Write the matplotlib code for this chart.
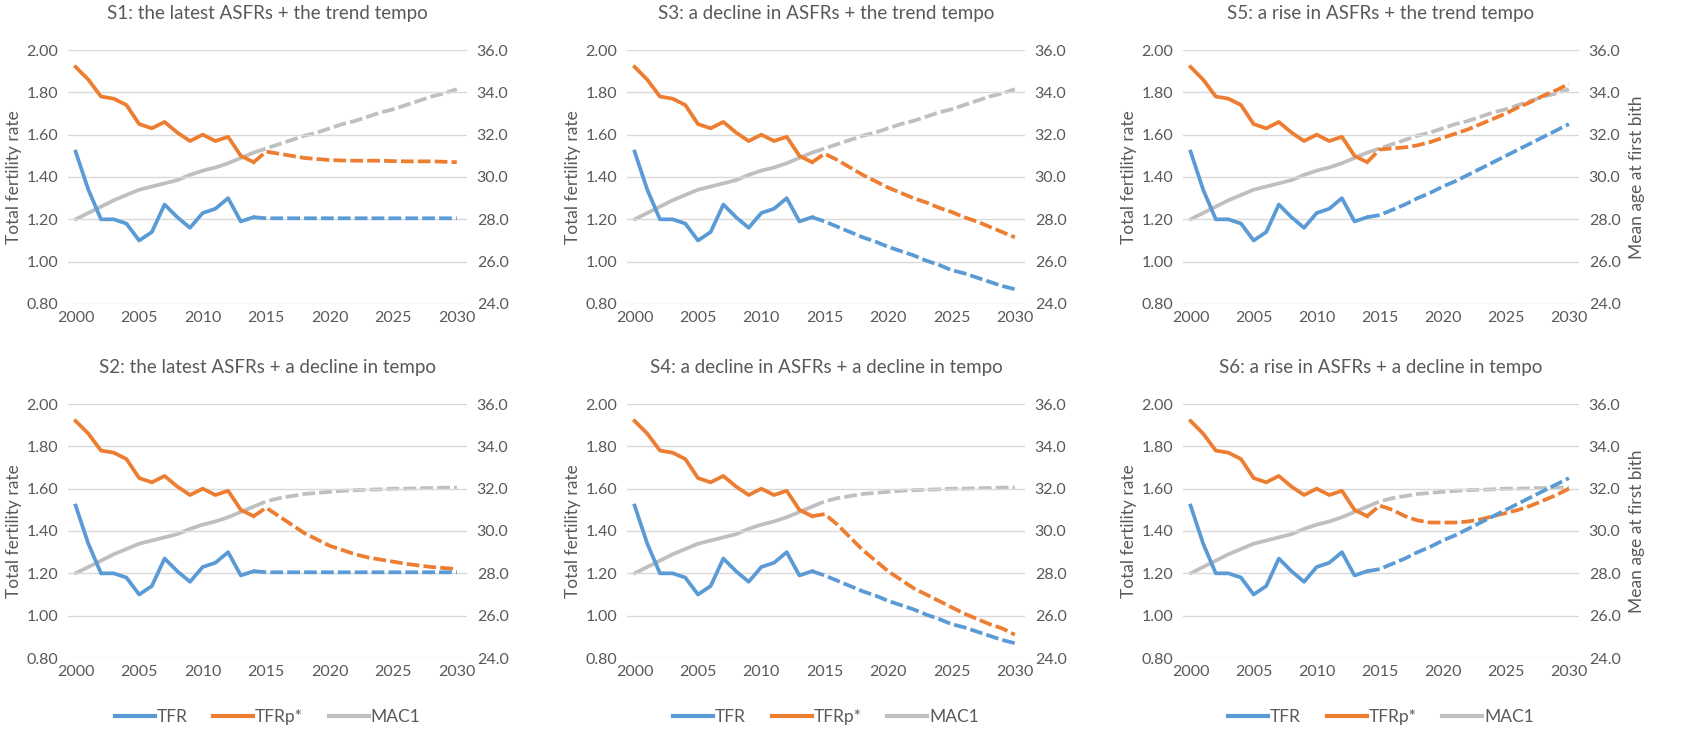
import matplotlib
matplotlib.use("Agg")
import matplotlib.pyplot as plt
from matplotlib.lines import Line2D

plt.rcParams['font.family'] = ['Lato', 'DejaVu Sans']

hist_years = list(range(2000, 2015))
proj_years = list(range(2014, 2031))

tfr_hist = [1.52, 1.34, 1.20, 1.20, 1.18, 1.10, 1.14, 1.27, 1.21, 1.16, 1.23, 1.25, 1.30, 1.19, 1.21]
tfrp_hist = [1.92, 1.86, 1.78, 1.77, 1.74, 1.65, 1.63, 1.66, 1.61, 1.57, 1.60, 1.57, 1.59, 1.50, 1.47]
mac1_hist = [28.0, 28.3, 28.6, 28.9, 29.15, 29.4, 29.55, 29.7, 29.85, 30.1, 30.3, 30.45, 30.65, 30.9, 31.15]

# projections (2014..2030)
tfr_flat = [1.21, 1.205, 1.205, 1.205, 1.205, 1.205, 1.205, 1.205, 1.205, 1.205, 1.205, 1.205, 1.205, 1.205, 1.205, 1.205, 1.205]
tfr_decline = [1.21, 1.19, 1.165, 1.14, 1.115, 1.095, 1.07, 1.05, 1.03, 1.005, 0.985, 0.96, 0.945, 0.925, 0.905, 0.885, 0.87]
tfr_rise = [1.21, 1.22, 1.245, 1.27, 1.30, 1.325, 1.355, 1.38, 1.41, 1.44, 1.47, 1.50, 1.53, 1.56, 1.59, 1.62, 1.65]

tfrp_s1 = [1.47, 1.52, 1.51, 1.50, 1.49, 1.485, 1.48, 1.478, 1.477, 1.477, 1.477, 1.475, 1.474, 1.474, 1.474, 1.472, 1.47]
tfrp_s2 = [1.47, 1.51, 1.47, 1.43, 1.39, 1.36, 1.33, 1.31, 1.29, 1.275, 1.265, 1.255, 1.245, 1.237, 1.23, 1.225, 1.22]
tfrp_s3 = [1.47, 1.51, 1.48, 1.445, 1.41, 1.38, 1.35, 1.325, 1.30, 1.28, 1.255, 1.235, 1.21, 1.19, 1.165, 1.14, 1.115]
tfrp_s4 = [1.47, 1.48, 1.43, 1.37, 1.31, 1.26, 1.21, 1.17, 1.13, 1.10, 1.07, 1.04, 1.01, 0.985, 0.96, 0.94, 0.91]
tfrp_s5 = [1.47, 1.53, 1.535, 1.54, 1.55, 1.565, 1.585, 1.605, 1.625, 1.65, 1.675, 1.70, 1.73, 1.755, 1.785, 1.81, 1.84]
tfrp_s6 = [1.47, 1.52, 1.50, 1.47, 1.45, 1.44, 1.44, 1.44, 1.445, 1.455, 1.47, 1.485, 1.50, 1.52, 1.545, 1.57, 1.60]

mac1_trend = [31.15, 31.35, 31.55, 31.75, 31.95, 32.1, 32.3, 32.5, 32.65, 32.85, 33.05, 33.2, 33.4, 33.6, 33.8, 33.95, 34.15]
mac1_decline = [31.15, 31.4, 31.55, 31.65, 31.75, 31.8, 31.85, 31.9, 31.93, 31.95, 31.97, 32.0, 32.0, 32.02, 32.03, 32.05, 32.05]

titles = ["S1: the latest ASFRs + the trend tempo",
          "S3: a decline in ASFRs + the trend tempo",
          "S5: a rise in ASFRs + the trend tempo",
          "S2: the latest ASFRs + a decline in tempo",
          "S4: a decline in ASFRs + a decline in tempo",
          "S6: a rise in ASFRs + a decline in tempo"]
panel_tfr = [tfr_flat, tfr_decline, tfr_rise, tfr_flat, tfr_decline, tfr_rise]
panel_tfrp = [tfrp_s1, tfrp_s3, tfrp_s5, tfrp_s2, tfrp_s4, tfrp_s6]
panel_mac = [mac1_trend, mac1_trend, mac1_trend, mac1_decline, mac1_decline, mac1_decline]

left_ticks = [0.80, 1.00, 1.20, 1.40, 1.60, 1.80, 2.00]
right_ticks = [24.0, 26.0, 28.0, 30.0, 32.0, 34.0, 36.0]
x_ticks = [2000, 2005, 2010, 2015, 2020, 2025, 2030]

BLUE = "#5B9BD5"
ORANGE = "#ED7D31"
GRAY = "#BFBFBF"
TXT = "#595959"
GRID = "#D9D9D9"

W, H = 1686, 729
fig = plt.figure(figsize=(W / 100, H / 100), dpi=100)

col_px = [(68, 399), (627, 398), (1183, 396)]
row_px = [50, 404]
ax_h = 254

lw = 2.7
dash = (3.4, 1.1)

for i in range(6):
    r, c = divmod(i, 3)
    lx, wx = col_px[c]
    ty = row_px[r]
    ax = fig.add_axes([lx / W, 1 - (ty + ax_h) / H, wx / W, ax_h / H])
    ax2 = ax.twinx()
    ax.set_zorder(ax2.get_zorder() + 1)
    ax.patch.set_visible(False)

    ax.set_xlim(1999.4, 2030.8)
    ax.set_ylim(0.80, 2.00)
    ax2.set_ylim(24.0, 36.0)
    ax.set_yticks(left_ticks)
    ax.set_yticklabels([f"{v:.2f}" for v in left_ticks])
    ax2.set_yticks(right_ticks)
    ax2.set_yticklabels([f"{v:.1f}" for v in right_ticks])
    ax.set_xticks(x_ticks)
    ax.set_xticklabels([str(v) for v in x_ticks])

    for a in (ax, ax2):
        for s in a.spines.values():
            s.set_visible(False)
        a.tick_params(length=0, colors=TXT, labelsize=11.5)
    ax.tick_params(axis='y', pad=7)
    ax2.tick_params(axis='y', pad=7)
    ax.tick_params(axis='x', pad=5)
    ax.grid(axis='y', color=GRID, lw=1.0)
    ax.set_axisbelow(True)

    ax.set_ylabel("Total fertility rate", color=TXT, fontsize=12.5, labelpad=3)
    if c == 2:
        ax2.set_ylabel("Mean age at first bith", color=TXT, fontsize=12.5, labelpad=6)

    ax.set_title(titles[i], color=TXT, fontsize=13.5, pad=22)

    # MAC1 on secondary axis
    ax2.plot(hist_years, mac1_hist, color=GRAY, lw=lw, solid_capstyle='round')
    ax2.plot(proj_years, panel_mac[i], color=GRAY, lw=lw, dashes=dash, dash_capstyle='butt')
    # TFR / TFRp*
    ax.plot(hist_years, tfrp_hist, color=ORANGE, lw=lw, solid_joinstyle='round')
    ax.plot(proj_years, panel_tfrp[i], color=ORANGE, lw=lw, dashes=dash, dash_capstyle='butt')
    ax.plot(hist_years, tfr_hist, color=BLUE, lw=lw, solid_joinstyle='round')
    ax.plot(proj_years, panel_tfr[i], color=BLUE, lw=lw, dashes=dash, dash_capstyle='butt')

    if r == 1:
        handles = [Line2D([0], [0], color=BLUE, lw=3),
                   Line2D([0], [0], color=ORANGE, lw=3),
                   Line2D([0], [0], color=GRAY, lw=3)]
        leg = fig.legend(handles, ["TFR", "TFRp*", "MAC1"], loc='center',
                         bbox_to_anchor=((lx + wx / 2) / W, 1 - 717 / H),
                         ncol=3, frameon=False, fontsize=12.5, handlelength=2.3,
                         handletextpad=0.1, columnspacing=1.5)
        for t in leg.get_texts():
            t.set_color(TXT)

fig.savefig("out.png", dpi=100)
